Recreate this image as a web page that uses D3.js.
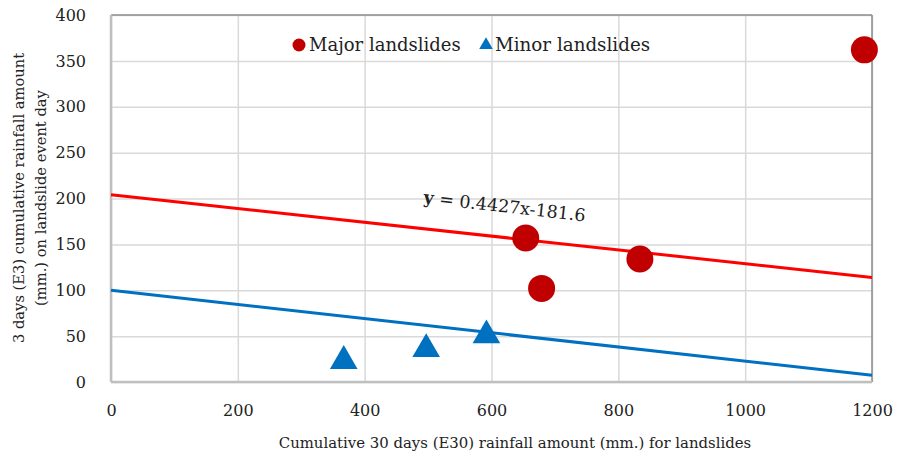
<!DOCTYPE html>
<html>
<head>
<meta charset="utf-8">
<script src="https://cdn.jsdelivr.net/npm/d3@7"></script>
<style>
  body { margin: 0; background: #fff; }
  text { font-family: "DejaVu Serif", serif; fill: #222; }
</style>
</head>
<body>
<div id="chart"></div>
<script>
// data
var majorX = [654, 679, 834, 1188];
var majorY = [157, 102, 134, 362];
var minorX = [367, 497, 592];
var minorY = [25, 38, 53];
// trendlines as drawn (end points at x = 0 and x = 1200)
var majorTrend = [[0, 204], [1200, 114]];
var minorTrend = [[0, 100], [1200, 7.3]];
var xTicks = [0, 200, 400, 600, 800, 1000, 1200];
var yTicks = [0, 50, 100, 150, 200, 250, 300, 350, 400];

var W = 904, H = 458;
var margin = {top: 15, right: 32, bottom: 76, left: 111},
    width = W - margin.left - margin.right,
    height = H - margin.top - margin.bottom;

var svg = d3.select("#chart")
  .append("svg")
    .attr("width", W)
    .attr("height", H);

var g = svg.append("g")
    .attr("transform", "translate(" + margin.left + "," + margin.top + ")");

var x = d3.scaleLinear().domain([0, 1200]).range([0, width]);
var y = d3.scaleLinear().domain([0, 400]).range([height, 0]);

// grid
g.append("g")
  .call(d3.axisLeft(y).tickValues(yTicks).tickSize(-width).tickFormat(""))
  .call(function(a) { a.select(".domain").remove(); })
  .selectAll("line").attr("stroke", "#d9d9d9").attr("stroke-width", 1.5);
g.append("g")
  .attr("transform", "translate(0," + height + ")")
  .call(d3.axisBottom(x).tickValues(xTicks).tickSize(-height).tickFormat(""))
  .call(function(a) { a.select(".domain").remove(); })
  .selectAll("line").attr("stroke", "#d9d9d9").attr("stroke-width", 1.5);

// frame
g.append("line").attr("x1", 0).attr("x2", width).attr("y1", 0).attr("y2", 0)
  .attr("stroke", "#8c8c8c").attr("stroke-width", 1.5);
g.append("line").attr("x1", width).attr("x2", width).attr("y1", 0).attr("y2", height)
  .attr("stroke", "#8c8c8c").attr("stroke-width", 1.5);
g.append("line").attr("x1", 0).attr("x2", 0).attr("y1", 0).attr("y2", height)
  .attr("stroke", "#bfbfbf").attr("stroke-width", 2.5);
g.append("line").attr("x1", 0).attr("x2", width).attr("y1", height).attr("y2", height)
  .attr("stroke", "#bfbfbf").attr("stroke-width", 2.5);

// tick labels
var ya = g.append("g")
  .attr("transform", "translate(-22,0)")
  .call(d3.axisLeft(y).tickValues(yTicks).tickSize(0).tickFormat(d3.format("d")));
ya.select(".domain").remove();
ya.selectAll("text").style("font-size", "16px").style("font-family", "DejaVu Serif").attr("fill", "#222");

var xa = g.append("g")
  .attr("transform", "translate(0," + (height + 20) + ")")
  .call(d3.axisBottom(x).tickValues(xTicks).tickSize(0).tickFormat(d3.format("d")));
xa.select(".domain").remove();
xa.selectAll("text").style("font-size", "16px").style("font-family", "DejaVu Serif").attr("fill", "#222");

// trendlines
var line = d3.line().x(function(d) { return x(d[0]); }).y(function(d) { return y(d[1]); });
g.append("path").datum(majorTrend).attr("d", line)
  .attr("fill", "none").attr("stroke", "#ff0000").attr("stroke-width", 3);
g.append("path").datum(minorTrend).attr("d", line)
  .attr("fill", "none").attr("stroke", "#0070c0").attr("stroke-width", 3);

// points
var major = majorX.map(function(v, i) { return [v, majorY[i]]; });
var minor = minorX.map(function(v, i) { return [v, minorY[i]]; });

g.selectAll("circle.major")
  .data(major)
  .enter()
  .append("circle")
    .attr("class", "major")
    .attr("cx", function(d) { return x(d[0]); })
    .attr("cy", function(d) { return y(d[1]); })
    .attr("r", 13.5)
    .attr("fill", "#c00000");

var tri = d3.symbol().type(d3.symbolTriangle).size(330);
g.selectAll("path.minor")
  .data(minor)
  .enter()
  .append("path")
    .attr("class", "minor")
    .attr("d", tri)
    .attr("transform", function(d) { return "translate(" + x(d[0]) + "," + (y(d[1]) + 2) + ")"; })
    .attr("fill", "#0070c0");

// equation label
var eq = g.append("text")
  .attr("transform", "translate(" + (x(492)) + "," + (y(195) ) + ") rotate(6.5)")
  .style("font-size", "17.5px");
eq.append("tspan").style("font-weight", "bold").text("y");
eq.append("tspan").text(" = 0.4427x-181.6");

// legend
var leg = svg.append("g");
leg.append("circle").attr("cx", 299).attr("cy", 45).attr("r", 6.5).attr("fill", "#c00000");
leg.append("text").attr("x", 309).attr("y", 51).text("Major landslides").style("font-size", "18px");
leg.append("path").attr("d", d3.symbol().type(d3.symbolTriangle).size(80))
  .attr("transform", "translate(486,45)").attr("fill", "#0070c0");
leg.append("text").attr("x", 495).attr("y", 51).text("Minor landslides").style("font-size", "18.3px");

// axis titles
svg.append("text")
  .attr("x", 515).attr("y", 448)
  .attr("text-anchor", "middle")
  .style("font-size", "14.9px")
  .text("Cumulative 30 days (E30) rainfall amount (mm.) for landslides");

var yt = svg.append("text")
  .attr("transform", "translate(24,198) rotate(-90)")
  .attr("text-anchor", "middle")
  .style("font-size", "14.7px");
yt.append("tspan").attr("x", 0).attr("y", 0).text("3 days (E3) cumulative rainfall amount");
yt.append("tspan").attr("x", 0).attr("y", 22).text("(mm.) on landslide event day");
</script>
</body>
</html>
